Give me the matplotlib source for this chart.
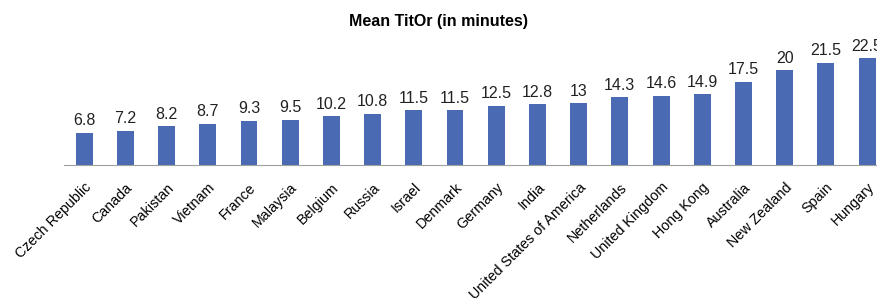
import matplotlib.pyplot as plt
import numpy as np

plt.rcParams['font.family'] = ['Liberation Sans', 'DejaVu Sans']

countries = ['Czech Republic', 'Canada', 'Pakistan', 'Vietnam', 'France', 'Malaysia',
             'Belgium', 'Russia', 'Israel', 'Denmark', 'Germany', 'India',
             'United States of America', 'Netherlands', 'United Kingdom', 'Hong Kong',
             'Australia', 'New Zealand', 'Spain', 'Hungary']
values = [6.8, 7.2, 8.2, 8.7, 9.3, 9.5, 10.2, 10.8, 11.5, 11.5,
          12.5, 12.8, 13, 14.3, 14.6, 14.9, 17.5, 20, 21.5, 22.5]
labels = ['6.8', '7.2', '8.2', '8.7', '9.3', '9.5', '10.2', '10.8', '11.5', '11.5',
          '12.5', '12.8', '13', '14.3', '14.6', '14.9', '17.5', '20', '21.5', '22.5']

fig = plt.figure(figsize=(8.77, 3.01), dpi=100)
ax = fig.add_axes([64/877, 136/301, 1 - 64/877, 130/301])

x = np.arange(len(countries))
ax.bar(x, values, width=0.41, color='#4a6ab4')
for xi, v, t in zip(x, values, labels):
    ax.text(xi, v + 0.9, t, ha='center', va='bottom', fontsize=11.5, color='#222222')

ax.set_xlim(-0.49, 19.24)
ax.set_ylim(0, 130 / 4.76)
ax.set_xticks(x)
ax.set_xticklabels(countries, rotation=45, ha='right', rotation_mode='anchor', fontsize=10.3)
ax.tick_params(axis='x', length=0, pad=11)
ax.set_yticks([])
for s in ['top', 'right', 'left']:
    ax.spines[s].set_visible(False)
ax.spines['bottom'].set_color('#a0a0a0')

fig.text(0.5, 0.93, 'Mean TitOr (in minutes)', ha='center', va='center',
         fontsize=11.5, fontweight='bold')

fig.savefig('out.png', dpi=100)
